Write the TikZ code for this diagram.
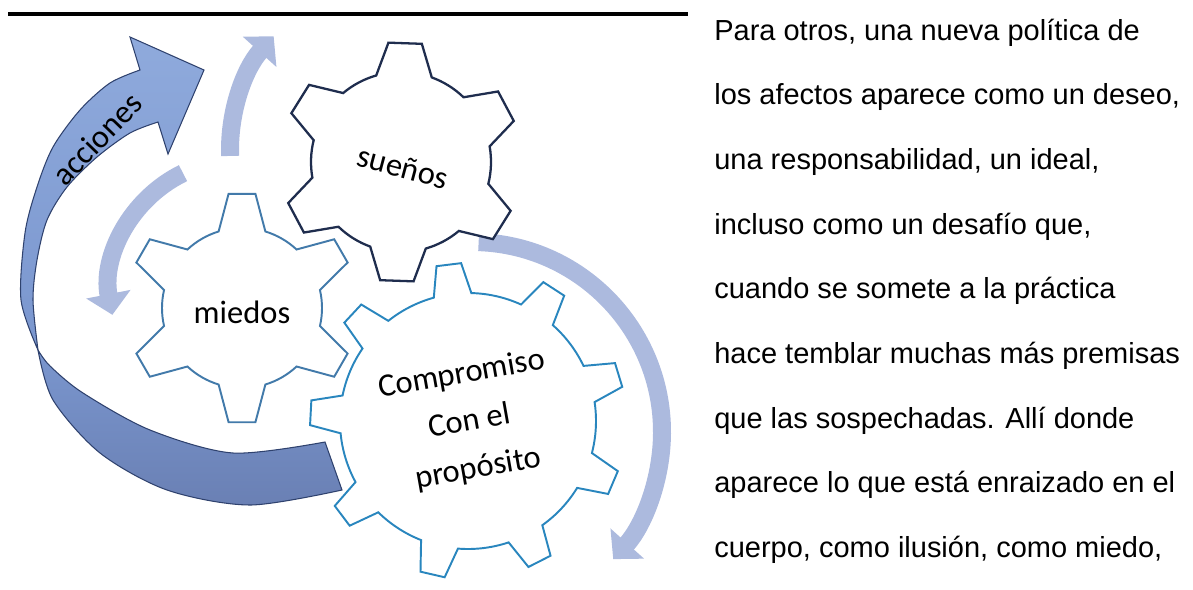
\documentclass[tikz,border=0pt]{standalone}
\usepackage{fontspec}
\setmainfont{Liberation Sans}
\newfontfamily\calibri{Carlito}
\usetikzlibrary{arrows.meta}

\definecolor{navygear}{RGB}{31,45,78}
\definecolor{steelgear}{RGB}{66,122,170}
\definecolor{bluegear}{RGB}{41,134,190}
\definecolor{lightarr}{RGB}{172,186,222}
\definecolor{acchead}{RGB}{143,170,220}
\definecolor{accmid}{RGB}{122,150,206}
\definecolor{accdark}{RGB}{106,128,180}
\definecolor{accline}{RGB}{47,66,110}

\begin{document}
\begin{tikzpicture}[x=0.02cm, y=0.02cm, every node/.style={inner sep=0pt},
    gearlabel/.style={font=\calibri\fontsize{18.5}{27.3}\selectfont, align=center},
    textline/.style={font=\fontsize{16.5}{20}\selectfont, anchor=base west},
    lightarrow/.style={draw=lightarr, line width=0.36cm, -{Triangle[width=0.88cm, length=0.42cm]}}]
    \useasboundingbox (0,0) rectangle (1193,-589);

    % Linea superior
    \draw[line width=0.08cm] (8,-13.5) -- (688,-13.5);

    % Flechas claras
    \draw[lightarrow] (240,-290) ++(116:130) arc[start angle=116, end angle=191, radius=130];
    \draw[lightarrow] (400,-150) ++(182:170) arc[start angle=182, end angle=138, radius=170];
    \draw[lightarrow] (472,-432) ++(88:190) arc[start angle=88, end angle=-42, radius=190];

    % Flecha acciones: cara trasera
    \path[draw=accline, line width=0.6pt, top color=accmid, bottom color=accdark]
        plot[smooth] coordinates {(38,-350) (53,-400) (100,-453) (167,-490) (250,-505) (342,-490)}
        -- plot[smooth] coordinates {(325,-442) (233,-453) (150,-430) (83,-393) (50,-366) (38,-350)} -- cycle;
    % Flecha acciones: cara frontal
    \path[draw=accline, line width=0.6pt, top color=acchead, bottom color=accmid]
        plot[smooth] coordinates {(38,-350) (21,-300) (25,-233) (37,-187) (53,-147) (80,-110) (110,-83) (140,-70)}
        -- (130,-37) -- (204,-70) -- (168,-154) -- (158,-122)
        -- plot[smooth] coordinates {(158,-122) (130,-133) (97,-157) (67,-187) (47,-220) (37,-260) (33,-300) (38,-350)} -- cycle;

    % Engranajes
    \foreach \cx/\cy/\tz/\n/\R/\r/\a/\b/\col/\lw in {
        401/162/88/6/120/90/8/18/navygear/1.3pt,
        242/308/90/6/115/80/6.7/17/steelgear/1.1pt,
        468/421/97/9/158/128/4.5/8.5/bluegear/1.1pt} {
        \pgfmathsetmacro\st{360/\n}
        \pgfmathtruncatemacro\last{\n-1}
        \filldraw[shift={(\cx,-\cy)}, fill=white, draw=\col, line width=\lw]
            ({\tz-\b}:\r)
            \foreach \k [evaluate=\k as \t using {\tz+\k*\st},
                         evaluate=\k as \sa using {\tz+\k*\st+\b},
                         evaluate=\k as \ea using {\tz+(\k+1)*\st-\b}] in {0,...,\last} {
                -- ({\t-\a}:\R) -- ({\t+\a}:\R) -- ({\t+\b}:\r)
                arc[start angle=\sa, end angle=\ea, radius=\r]
            } -- cycle;
    }

    % Textos de los engranajes
    \node[gearlabel, rotate=-15] (suenos) at (403,-167) {sueños};
    \node[gearlabel] (miedos) at (242,-312) {miedos};
    \node[gearlabel, rotate=10] (compromiso) at (470,-422) {Compromiso\\Con el\\propósito};
    \node[gearlabel, rotate=46] (acciones) at (97,-139) {acciones};

    % Texto de la derecha
    \foreach \txt [count=\i from 0] in {{Para otros, una nueva política de},
        {los afectos aparece como un deseo,}, {una responsabilidad, un ideal,},
        {incluso como un desafío que,}, {cuando se somete a la práctica},
        {hace temblar muchas más premisas}, {que las sospechadas. Allí donde},
        {aparece lo que está enraizado en el}, {cuerpo, como ilusión, como miedo,}}
        \node[textline] (linea\i) at (714,{-40-64.7*\i}) {\txt};
\end{tikzpicture}
\end{document}
